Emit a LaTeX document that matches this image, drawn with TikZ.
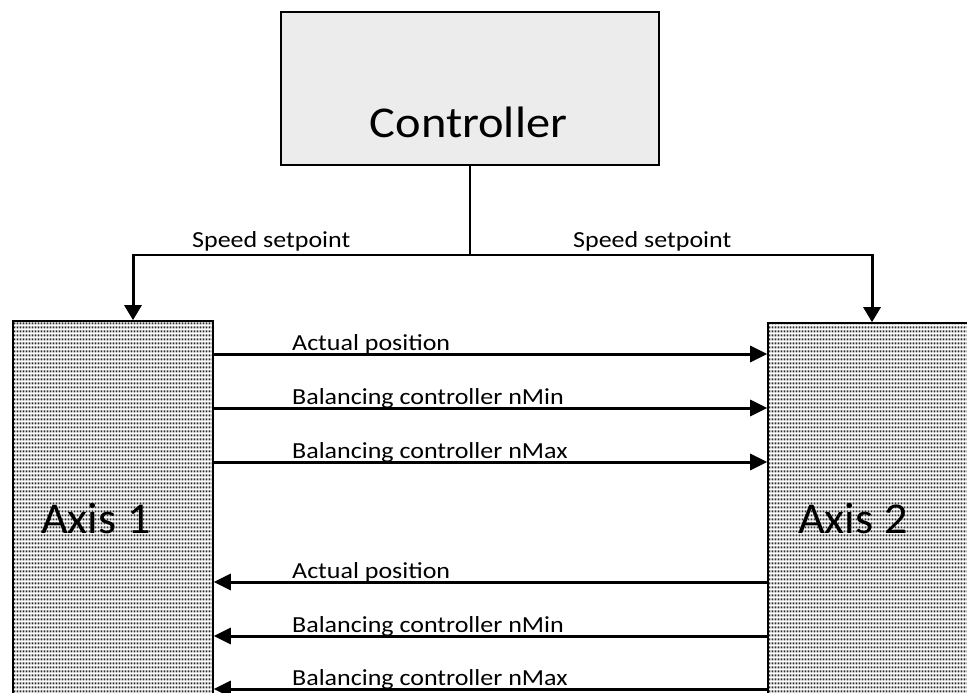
\documentclass[tikz,border=0pt]{standalone}
\usepackage{fontspec}
\setmainfont{Carlito}
\usetikzlibrary{arrows.meta,patterns}
\pgfdeclarepatternformonly{graydots}{\pgfqpoint{0pt}{0pt}}{\pgfqpoint{3.4pt}{3.6pt}}{\pgfqpoint{3.4pt}{3.6pt}}{%
  \pgfpathrectangle{\pgfqpoint{0.6pt}{0.6pt}}{\pgfqpoint{2.1pt}{2.3pt}}\pgfusepath{fill}}
\definecolor{ctrlfill}{HTML}{ECECEC}
\definecolor{dotgray}{HTML}{2E2E2E}
\tikzset{
  ctrlbox/.style={draw, line width=1.6pt, fill=ctrlfill, minimum width=378pt, minimum height=153pt, inner sep=0pt},
  axisbox/.style={draw, line width=1.6pt, preaction={fill=white}, pattern=graydots, pattern color=dotgray, inner sep=0pt},
  thinline/.style={line width=1.5pt},
  setarrow/.style={line width=3pt, -{Triangle[length=15pt,width=17pt]}},
  sigarrow/.style={line width=3pt, -{Triangle[length=17pt,width=16pt]}},
  smalltxt/.style={anchor=base west, inner sep=0pt, font=\fontsize{23}{27}\selectfont},
  bigtxt/.style={anchor=base west, inner sep=0pt, font=\fontsize{44}{50}\selectfont},
}
\newcommand{\sx}[2]{\scalebox{#1}[1]{#2}}
\begin{document}
\begin{tikzpicture}[x=1pt,y=-1pt]
\useasboundingbox (0,0) rectangle (967,693);
\clip (0,0) rectangle (967,693);
\fill[white] (0,0) rectangle (967,693);
% Controller
\node[ctrlbox] (ctrl) at (470,88.5) {};
\node[bigtxt, anchor=base] (ctrltext) at (468.5,137) {\sx{1.1}{Controller}};
% Axes
\node[axisbox, minimum width=200pt, minimum height=400pt] (ax1) at (113,521) {};
\node[axisbox, minimum width=240pt, minimum height=400pt] (ax2) at (888,523) {};
\node[bigtxt] (ax1text) at (41,533) {\sx{1.05}{Axis 1}};
\node[bigtxt] (ax2text) at (798,533) {\sx{1.05}{Axis 2}};
% Speed setpoint distribution
\coordinate (j) at (470,255);
\coordinate (l) at (133,255);
\coordinate (r) at (872,255);
\draw[thinline] (ctrl.south) -- (j);
\draw[thinline] (l) -- (r);
\draw[setarrow] ([yshift=0.7pt]l) -- (l |- ax1.north);
\draw[setarrow] ([yshift=0.7pt]r) -- (r |- ax2.north);
\node[smalltxt] (sp1) at (192,247) {\sx{1.13}{Speed setpoint}};
\node[smalltxt] (sp2) at (573,247) {\sx{1.13}{Speed setpoint}};
% Axis 1 -> Axis 2
\draw[sigarrow] (ax1.east |- 0,354) -- (ax2.west |- 0,354);
\draw[sigarrow] (ax1.east |- 0,408) -- (ax2.west |- 0,408);
\draw[sigarrow] (ax1.east |- 0,462) -- (ax2.west |- 0,462);
\node[smalltxt] (l1) at (292,350) {\sx{1.13}{Actual position}};
\node[smalltxt] (l2) at (292,404) {\sx{1.13}{Balancing controller nMin}};
\node[smalltxt] (l3) at (292,458) {\sx{1.13}{Balancing controller nMax}};
% Axis 2 -> Axis 1
\draw[sigarrow] (ax2.west |- 0,582) -- (ax1.east |- 0,582);
\draw[sigarrow] (ax2.west |- 0,636) -- (ax1.east |- 0,636);
\draw[sigarrow] (ax2.west |- 0,689) -- (ax1.east |- 0,689);
\node[smalltxt] (l4) at (292,578) {\sx{1.13}{Actual position}};
\node[smalltxt] (l5) at (292,632) {\sx{1.13}{Balancing controller nMin}};
\node[smalltxt] (l6) at (292,685) {\sx{1.13}{Balancing controller nMax}};
\end{tikzpicture}
\end{document}
